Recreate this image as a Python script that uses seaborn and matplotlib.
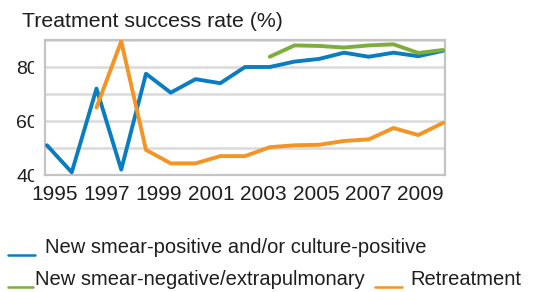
#!/usr/bin/env python3
"""
Treatment success rate (%) by cohort year: new smear-positive,
new smear-negative/extrapulmonary and retreatment cases.
"""

import numpy as np
import pandas as pd

import matplotlib
matplotlib.use('Agg')
import matplotlib.pyplot as plt
from matplotlib.lines import Line2D
from matplotlib.transforms import Bbox, TransformedBbox
import seaborn as sns

# --- data ---
years = list(range(1995, 2012))
new_smear_pos = [51, 41, 72, 42, 77.5, 70.5, 75.5, 74, 80, 80, 82, 83, 85.3, 83.8, 85.3, 84, 86]
new_smear_neg = [np.nan] * 9 + [83.8, 88, 87.8, 87.2, 88, 88.4, 85.2, 86.3]
retreatment = [np.nan, np.nan, 65, 89.5, 49.3, 44.3, 44.3, 47, 47, 50.3, 51, 51.2, 52.6, 53.2, 57.4, 54.8, 59.3]

series_names = ["New smear-positive and/or culture-positive",
                "New smear-negative/extrapulmonary",
                "Retreatment"]
colors = ["#0a7dc2", "#7fad3c", "#f39425"]
x_tick_labels = ["1995", "1997", "1999", "2001", "2003", "2005", "2007", "2009"]
y_major = [40, 60, 80]
y_grid = [50, 70, 90]
title = "Treatment success rate (%)"

W, H = 550, 292


def px(x, y):
    """pixel position (from top-left) -> figure fraction"""
    return x / W, 1 - y / H


def main():
    sns.set_theme(style="white")
    plt.rcParams['font.family'] = ['Liberation Sans', 'DejaVu Sans']
    text_col = "#1e1e1e"

    df = pd.DataFrame({"Year": years * 3,
                       "Rate": new_smear_pos + new_smear_neg + retreatment,
                       "Series": [s for s in series_names for _ in years]}).dropna()

    fig = plt.figure(figsize=(W / 100, H / 100), dpi=100)
    ax = fig.add_axes([45 / W, 1 - 175 / H, 400 / W, 135 / H])

    sns.lineplot(data=df, x="Year", y="Rate", hue="Series", hue_order=series_names,
                 palette=colors, linewidth=2.8, legend=False, ax=ax, zorder=3)

    ax.set_xlim(years[0] - 0.08, years[-1] + 0.08)
    ax.set_ylim(40, 90)
    ax.set_xlabel("")
    ax.set_ylabel("")

    # category labels are spread a bit wider than the points in the original
    ax.set_xticks(np.linspace(1995.3, 2010.1, len(x_tick_labels)))
    ax.set_xticklabels(x_tick_labels)
    ax.set_yticks(y_major)
    ax.set_yticks(y_grid, minor=True)
    ax.grid(True, which="both", axis="y", color="#dadada", linewidth=1.8, zorder=0)
    ax.grid(False, axis="x")
    ax.tick_params(axis="x", length=0, pad=7, labelsize=15, labelcolor=text_col)
    ax.tick_params(axis="y", which="both", length=0, pad=5, labelsize=14, labelcolor=text_col)
    for sp in ax.spines.values():
        sp.set_color("#c4c4c4")
        sp.set_linewidth(1.6)

    # the y labels are cut off by the plot area in the original
    clip = TransformedBbox(Bbox([[0, 0], [34 / W, 1]]), fig.transFigure)
    for lbl in ax.get_yticklabels():
        lbl.set_clip_box(clip)
        lbl.set_clip_on(True)

    fig.text(*px(22, 27), title, fontsize=15.3, color=text_col, va="baseline")

    # legend laid out like the source (underscore-like handles)
    entries = [(0, 8, 35, 45, 253), (1, 8, 33, 35, 285), (2, 375, 402, 410, 285)]
    for i, x0, x1, xt, yb in entries:
        fig.add_artist(Line2D([x0 / W, x1 / W], [1 - (yb + 2) / H] * 2,
                              transform=fig.transFigure, color=colors[i], linewidth=1.8))
        fig.text(*px(xt, yb), series_names[i], fontsize=14.5, color=text_col, va="baseline")

    fig.savefig("out.png", dpi=100)
    plt.close(fig)


if __name__ == "__main__":
    main()
